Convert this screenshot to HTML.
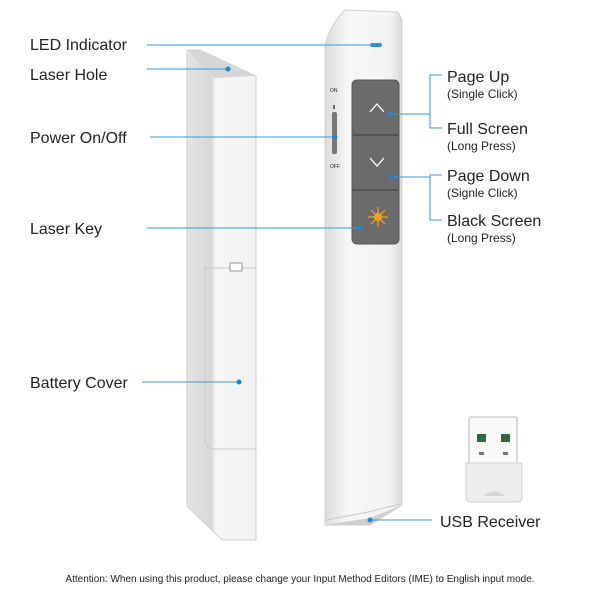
<!DOCTYPE html>
<html><head><meta charset="utf-8"><style>
html,body{margin:0;padding:0;background:#fff}
svg{display:block}
text{font-family:"Liberation Sans",sans-serif;fill:#222}
</style></head><body>
<svg width="600" height="600" viewBox="0 0 600 600" xmlns="http://www.w3.org/2000/svg">
<defs>
<linearGradient id="lg" x1="0" x2="1" y1="0" y2="0">
<stop offset="0" stop-color="#e4e4e4"/><stop offset="0.35" stop-color="#d8d8d8"/><stop offset="0.42" stop-color="#f6f6f6"/><stop offset="1" stop-color="#f2f2f2"/></linearGradient>
<linearGradient id="rg" x1="0" x2="1" y1="0" y2="0">
<stop offset="0" stop-color="#dcdcdc"/><stop offset="0.2" stop-color="#eeeeee"/><stop offset="0.3" stop-color="#f7f7f7"/><stop offset="0.85" stop-color="#f3f3f3"/><stop offset="1" stop-color="#d9d9d9"/></linearGradient>
</defs>
<!-- left device -->
<path d="M187,50 L200,50 L256,76 L256,540 L222,540 L187,506 Z" fill="url(#lg)" stroke="#cfcfcf"/>
<path d="M187,50 L200,50 L256,76 L215,78 Z" fill="#d6d6d6"/>
<path d="M205,268 L256,268 L256,449 L215,449 Q205,449 205,438 Z" fill="none" stroke="#c8c8c8"/>
<rect x="230" y="263" width="12" height="8" fill="#fff" stroke="#999"/>
<!-- right device -->
<path d="M345,10 L398,12 L402,20 L402,505 L370,525 L325,525 L325,45 Q330,25 345,10 Z" fill="url(#rg)" stroke="#cfcfcf"/>
<path d="M325,525 L370,518 L402,505 L370,525 Z" fill="#cfcfcf"/>
<path d="M326,520 L368,512 L400,504" fill="none" stroke="#c8c8c8"/>
<rect x="370" y="43" width="12" height="4" rx="2" fill="#2a8fe0"/>
<!-- slider -->
<rect x="332" y="112" width="5" height="42" rx="2" fill="#777"/>
<rect x="333" y="105" width="2" height="4" fill="#666"/>
<text x="330" y="92" font-size="5" fill="#666">ON</text>
<text x="330" y="168" font-size="5" fill="#666">OFF</text>
<!-- buttons -->
<rect x="352" y="80" width="47" height="164" rx="5" fill="#6b6b6b" stroke="#555"/>
<line x1="353" y1="135" x2="398" y2="135" stroke="#4a4a4a" stroke-width="1.5"/>
<line x1="353" y1="190" x2="398" y2="190" stroke="#4a4a4a" stroke-width="1.5"/>
<polyline points="370,112 377,104 384,112" fill="none" stroke="#fff" stroke-width="1.3"/>
<polyline points="370,158 377,166 384,158" fill="none" stroke="#fff" stroke-width="1.3"/>
<g stroke="#f5a020" stroke-width="1.2">
<line x1="368" y1="217" x2="388" y2="217"/><line x1="378" y1="207" x2="378" y2="227"/>
<line x1="371" y1="210" x2="385" y2="224"/><line x1="385" y1="210" x2="371" y2="224"/></g>
<circle cx="378" cy="217" r="4" fill="#f5a020"/>
<!-- USB -->
<rect x="469" y="417" width="48" height="50" rx="2" fill="#fafafa" stroke="#bbb"/>
<rect x="477" y="434" width="9" height="8" fill="#2f6b3c"/><rect x="501" y="434" width="9" height="8" fill="#2f6b3c"/>
<rect x="479" y="452" width="5" height="3" fill="#777"/><rect x="503" y="452" width="5" height="3" fill="#777"/>
<path d="M466,463 L522,463 L522,497 Q522,502 517,502 L471,502 Q466,502 466,497 Z" fill="#eeeeee" stroke="#d0d0d0"/>
<path d="M483,496 Q494,487 505,496 Z" fill="#d4d4d4"/>
<!-- leader lines -->
<g stroke="#3a9ad9" stroke-width="1" fill="none">
<line x1="147" y1="45" x2="376" y2="45"/>
<line x1="147" y1="69" x2="228" y2="69"/>
<line x1="150" y1="137" x2="335" y2="137"/>
<line x1="147" y1="228" x2="360" y2="228"/>
<line x1="142" y1="382" x2="239" y2="382"/>
<line x1="390" y1="114" x2="430" y2="114"/>
<polyline points="442,75 430,75 430,128 442,128"/>
<line x1="391" y1="177" x2="430" y2="177"/>
<polyline points="442,175 430,175 430,220 442,220"/>
<line x1="370" y1="520" x2="432" y2="520"/>
</g>
<g fill="#1f86d6">
<circle cx="228" cy="69" r="2.5"/><circle cx="335" cy="137" r="2.5"/><circle cx="360" cy="228" r="2.5"/>
<circle cx="239" cy="382" r="2.5"/><circle cx="390" cy="114" r="2.5"/><circle cx="391" cy="177" r="2.5"/><circle cx="370" cy="520" r="2.5"/>
</g>
<!-- labels -->
<g font-size="16">
<text x="30" y="50">LED Indicator</text>
<text x="30" y="80">Laser Hole</text>
<text x="30" y="143">Power On/Off</text>
<text x="30" y="234">Laser Key</text>
<text x="30" y="388">Battery Cover</text>
<text x="447" y="82">Page Up</text>
<text x="447" y="134">Full Screen</text>
<text x="447" y="181">Page Down</text>
<text x="447" y="226">Black Screen</text>
<text x="440" y="527">USB Receiver</text>
</g>
<g font-size="12" fill="#333">
<text x="447" y="98">(Single Click)</text>
<text x="447" y="150">(Long Press)</text>
<text x="447" y="197">(Signle Click)</text>
<text x="447" y="242">(Long Press)</text>
</g>
<text x="300" y="582" font-size="10" text-anchor="middle" fill="#444">Attention: When using this product, please change your Input Method Editors (IME) to English input mode.</text>
</svg>
</body></html>
